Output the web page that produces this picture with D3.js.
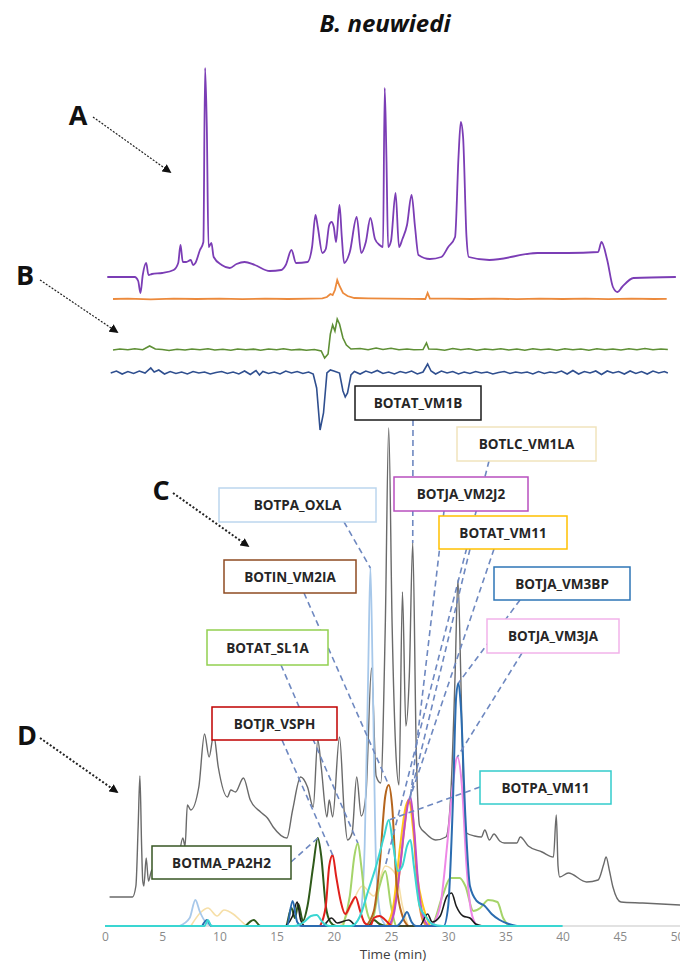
<!DOCTYPE html>
<html>
<head>
<meta charset="utf-8">
<script src="https://cdn.jsdelivr.net/npm/d3@7"></script>
<style>
  body { margin: 0; background: #fff; }
  svg { display: block; }
</style>
</head>
<body>
<svg id="chart" width="680" height="964"></svg>
<script>
// ---- data: [time (min), signal] ----
const timeTicks = [0, 5, 10, 15, 20, 25, 30, 35, 40, 45, 50];

// A: UV trace
const traceA = [[0.2,0],[2.6,0],[2.9,-4],[3.1,-16],[3.3,2],[3.6,14],[3.8,2],[4.1,3],[5.0,4],[6.0,7],[6.4,14],[6.6,32],[6.8,15],[7.1,15],[7.5,17],[7.7,12],[7.9,14],[8.3,27],[8.6,35],[8.75,209],[8.9,150],[9.05,30],[9.3,34],[9.5,20],[10.2,12],[10.9,9],[11.5,13],[12.2,15],[13.1,12],[14.4,6],[15.4,7],[15.8,12],[16.3,27],[16.7,14],[17.7,15],[18.1,30],[18.4,62],[18.6,50],[19.0,24],[19.3,28],[19.6,52],[19.8,55],[20.0,50],[20.2,35],[20.5,72],[20.7,40],[20.9,14],[21.4,25],[22.0,60],[22.4,24],[22.8,35],[23.2,59],[23.6,38],[24.0,32],[24.3,30],[24.45,189],[24.6,120],[24.75,30],[25.0,36],[25.4,84],[25.7,30],[26.0,38],[26.4,52],[26.8,82],[27.1,50],[27.4,22],[28.4,18],[29.4,20],[30.0,30],[30.6,40],[30.9,120],[31.1,155],[31.3,140],[31.6,40],[31.8,20],[33.6,17],[37.8,24],[40.5,24],[43.1,25],[43.4,35],[43.9,17],[44.4,-10],[44.8,-15],[45.2,-10],[46.2,-1],[49.9,0]];

// B: three detector traces
const traceOrange = [[0.7,0],[2,0.4],[4,-0.3],[6,0.3],[8,0],[10,0.4],[12,-0.2],[14,0.3],[16,0],[18,0.4],[19,0.6],[19.4,2],[19.7,5],[19.9,4],[20.1,9],[20.3,19],[20.5,13],[20.8,6],[21.2,3],[21.8,1],[23,0.6],[25,0.3],[27,0.2],[28.0,0],[28.2,6],[28.4,0.5],[30,0.3],[32,0],[34,0.4],[36,-0.2],[38,0.3],[40,0],[42,0.3],[44,-0.2],[46,0.3],[48,0],[49.1,0.2]];

const traceGreen = [[0.7,0],[1.3,1],[2,0.2],[2.6,1.2],[3.3,0.3],[3.9,4],[4.4,1],[5,0.5],[5.6,-0.5],[6.3,0.8],[7,0],[7.6,1],[8.3,0.2],[9,1.2],[9.6,0],[10.3,0.8],[11,-0.3],[11.6,1],[12.3,0.2],[13,0.9],[13.6,-0.2],[14.3,1],[15,0.3],[15.6,1.2],[16.3,0],[17,0.6],[17.6,-0.3],[18.3,0.5],[18.9,-1],[19.2,-8],[19.5,-4],[19.7,16],[19.9,25],[20.1,19],[20.3,31],[20.5,26],[20.8,12],[21.1,5],[21.5,1],[22.3,1.5],[23,0.2],[23.7,2],[24.3,0.5],[25,1.8],[25.7,0.3],[26.4,1],[27,0.2],[27.8,0.5],[28.1,7],[28.3,1],[29,0.8],[29.7,-0.3],[30.4,1.5],[31.1,0.2],[31.8,1.2],[32.5,-0.2],[33.2,1],[33.9,0.3],[34.6,1.3],[35.3,0],[36,1],[36.7,-0.3],[37.4,1.2],[38.1,0.2],[38.8,1],[39.5,-0.2],[40.2,1.3],[40.9,0.2],[41.6,1],[42.3,-0.3],[43,1.2],[43.7,0.3],[44.4,1],[45.1,0],[45.8,1.2],[46.5,0.3],[47.2,1.5],[47.9,0.2],[48.6,1],[49.2,0.5]];

const traceBlue = [[0.5,0],[1,2],[1.5,-1],[2,1.5],[2.5,-0.5],[3,2],[3.5,0],[4,5],[4.3,1],[4.7,3],[5.2,-1],[5.7,1.5],[6.2,-0.5],[6.7,1],[7.2,-1],[7.7,1.5],[8.2,0],[8.7,1],[9.2,-1],[9.7,0.5],[10.2,1.5],[10.7,-0.5],[11.2,1],[11.7,-1],[12.2,2],[12.7,-1.5],[13.2,2.5],[13.5,-2],[13.8,1.5],[14.3,-0.5],[14.8,1],[15.3,-1],[15.8,2],[16.3,0],[16.8,1.5],[17.3,-0.5],[17.8,1],[18.2,-1],[18.5,-15],[18.8,-57],[19.1,-40],[19.4,0],[19.7,3],[20.0,2],[20.5,0],[20.8,-18],[21.0,-24],[21.2,-20],[21.5,-2],[21.8,1.5],[22.3,-1],[22.8,2],[23.3,0],[23.8,2.5],[24.3,-0.5],[24.8,1],[25.3,-1],[25.8,1.5],[26.3,0],[26.8,2],[27.3,-1],[27.8,1],[28.2,9],[28.5,2],[28.9,-1],[29.4,2],[29.9,0],[30.4,1.5],[30.9,-1],[31.4,1],[31.9,-0.5],[32.4,1.5],[32.9,0],[33.4,1],[33.9,-1],[34.4,0.5],[34.9,1.5],[35.4,-0.5],[35.9,1],[36.4,0],[36.9,1],[37.4,-1],[37.9,1.5],[38.4,-0.5],[38.9,1],[39.4,0],[39.9,2],[40.4,-1],[40.9,2.5],[41.4,-1],[41.9,1.5],[42.4,0],[42.9,2],[43.4,-1.5],[43.9,2],[44.4,0],[44.9,1.5],[45.4,-1],[45.9,2],[46.4,-0.5],[46.9,1.5],[47.4,-1],[47.9,2],[48.4,0],[48.9,1.5],[49.2,0]];

// D: total trace and the assigned components
const traceD = [[0.4,29],[2.4,29],[2.7,40],[2.9,100],[3.05,150],[3.2,80],[3.3,45],[3.4,40],[3.6,68],[3.8,45],[4.1,56],[5.4,54],[6.3,60],[6.8,88],[7.0,80],[7.2,121],[7.5,116],[8.2,139],[8.7,192],[9.1,169],[9.5,191],[9.9,159],[10.7,129],[11.0,136],[11.4,134],[12.1,148],[12.7,126],[13.6,114],[14.2,108],[14.7,99],[15.9,88],[16.4,116],[17.1,149],[17.7,139],[18.2,119],[18.6,186],[18.9,159],[19.4,109],[19.6,126],[19.9,109],[20.5,189],[20.9,116],[21.2,86],[21.6,93],[22.0,149],[22.4,110],[22.8,130],[23.3,258],[23.7,150],[24.1,143],[24.5,300],[24.8,498],[25.1,300],[25.4,180],[25.7,141],[26.0,334],[26.3,200],[26.6,250],[26.9,383],[27.2,180],[27.5,100],[28.0,93],[28.9,86],[29.8,89],[30.2,126],[30.6,250],[30.85,346],[31.1,250],[31.3,150],[31.6,93],[32.3,90],[32.9,89],[33.2,96],[33.6,86],[34.0,92],[34.5,85],[34.9,83],[36.0,83],[36.3,89],[37.0,80],[38.2,74],[39.2,69],[39.45,111],[39.6,60],[39.75,49],[40.5,53],[42.1,44],[43.1,46],[43.6,62],[43.8,69],[44.1,55],[44.4,39],[45.1,24],[47.0,23],[50.3,21]];

const compLC_VM1LA = [[7.5,0],[8.4,14],[9.0,18],[9.8,10],[10.4,16],[11.2,12],[11.8,6],[12.5,0],[20.5,0],[21.5,20],[22.5,40],[23.5,30],[24.5,60],[25.5,50],[26,20],[26.5,0]];
const compPA_OXLA = [[6.5,0],[7.4,8],[7.9,26],[8.3,14],[8.8,4],[9.5,0],[21.5,0],[22.3,10],[22.7,80],[23.0,250],[23.2,358],[23.4,250],[23.7,60],[24.1,10],[24.6,0]];
const compAT_VM1B = [[15.8,0],[16.4,10],[16.8,24],[17.1,6],[17.5,0],[19,0],[19.8,8],[20.3,3],[21.3,6],[22,0],[27.5,0],[28.2,12],[28.6,4],[29.3,10],[29.9,30],[30.3,33],[30.7,20],[31.3,10],[31.9,8],[32.4,2],[33,0]];
const compMA_PA2H2 = [[12.3,0],[13.0,6],[13.6,0],[15.8,0],[16.3,18],[16.6,8],[16.9,22],[17.3,5],[17.7,20],[18.2,60],[18.6,88],[18.9,70],[19.3,20],[19.7,4],[20.2,0],[23,0],[23.5,6],[24,2],[24.5,0]];
const compJR_VSPH = [[18.8,0],[19.3,20],[19.6,60],[19.9,71],[20.2,50],[20.6,25],[21.0,12],[21.5,22],[21.9,29],[22.3,15],[22.7,3],[23.2,0],[23.5,8],[24.0,10],[24.5,6],[25,0]];
const compAT_SL1A = [[20.8,0],[21.4,30],[21.8,70],[22.1,83],[22.4,60],[22.8,20],[23.3,5],[24,40],[24.5,55],[25,20],[25.5,0],[28.5,0],[29.5,30],[30.2,48],[31.0,48],[31.5,40],[32.2,15],[32.8,18],[33.5,26],[34.3,24],[34.8,8],[35.3,0]];
const compIN_VM2IA = [[22.8,0],[23.5,15],[24.0,60],[24.5,130],[24.8,141],[25.1,120],[25.5,40],[26.0,10],[26.5,0]];
const compJA_VM2J2 = [[24.8,0],[25.3,15],[25.8,60],[26.3,110],[26.7,129],[27.0,100],[27.4,40],[27.8,10],[28.3,0]];
const compAT_VM11 = [[24.6,0],[25.2,20],[25.8,80],[26.3,120],[26.6,126],[26.9,100],[27.3,50],[27.8,20],[28.4,0]];
const compOrange = [[25.0,0],[25.6,40],[26.2,100],[26.5,126],[26.9,110],[27.3,40],[27.8,5],[28.2,0]];
const compJA_VM3JA = [[28.5,0],[29.3,20],[29.9,80],[30.4,140],[30.8,169],[31.2,140],[31.6,60],[32.0,15],[32.5,0]];
const compJA_VM3BP = [[8.5,0],[8.9,6],[9.3,0],[15.9,0],[16.4,25],[16.8,4],[17.2,0],[25.5,0],[26.0,6],[26.4,14],[26.8,4],[27.2,0],[29.6,0],[30.0,20],[30.4,120],[30.7,230],[30.9,243],[31.1,220],[31.5,110],[31.9,40],[32.5,25],[33.2,20],[33.8,12],[34.5,6],[35.3,2],[36.0,0]];
const compPA_VM11 = [[0,0],[8.7,0],[9.0,6],[9.3,0],[16.5,0],[17.4,4],[18.0,10],[18.5,11],[19.0,4],[19.6,0],[21.5,0],[22.3,10],[23.0,35],[23.7,60],[24.4,90],[24.8,106],[25.2,80],[25.6,55],[26.0,60],[26.4,80],[26.7,86],[27.0,60],[27.5,20],[28,10],[28.6,2],[29.5,0],[40,0]];

const labelNames = ["BOTAT_VM1B", "BOTLC_VM1LA", "BOTJA_VM2J2", "BOTPA_OXLA", "BOTAT_VM11", "BOTIN_VM2IA",
                    "BOTJA_VM3BP", "BOTJA_VM3JA", "BOTAT_SL1A", "BOTJR_VSPH", "BOTPA_VM11", "BOTMA_PA2H2"];

// ---- styling / layout ----
const svg = d3.select("#chart");
const x = d3.scaleLinear().domain([0, 50]).range([105, 677]);

const yA = d3.scaleLinear().domain([0, 210]).range([277, 67]);
const yOrange = d3.scaleLinear().domain([0, 50]).range([299, 249]);
const yGreen = d3.scaleLinear().domain([0, 50]).range([350, 300]);
const yBlue = d3.scaleLinear().domain([0, 50]).range([373, 323]);
const yD = d3.scaleLinear().domain([0, 500]).range([926, 426]);

const lineFor = (y, curve) => d3.line()
    .x(d => x(d[0]))
    .y(d => y(d[1]))
    .curve(curve || d3.curveMonotoneX);

// title
svg.append("text")
    .attr("x", 385).attr("y", 32)
    .attr("text-anchor", "middle")
    .style("font", "italic bold 24px 'Open Sans', sans-serif")
    .attr("fill", "#111")
    .text("B. neuwiedi");

// panel letters + dotted arrows
const defs = svg.append("defs");
defs.append("marker")
    .attr("id", "head").attr("viewBox", "0 0 10 10")
    .attr("refX", 8).attr("refY", 5)
    .attr("markerWidth", 9).attr("markerHeight", 9)
    .attr("markerUnits", "userSpaceOnUse")
    .attr("orient", "auto")
    .append("path").attr("d", "M0,0 L10,5 L0,10 z").attr("fill", "#111");

const letters = [
    {t: "A", x: 78, y: 125, from: [93, 117], to: [170, 172], w: 1.2},
    {t: "B", x: 25, y: 285, from: [40, 280], to: [117, 332], w: 1.2},
    {t: "C", x: 161, y: 500, from: [173, 493], to: [248, 546], w: 2},
    {t: "D", x: 27, y: 745, from: [40, 738], to: [117, 792], w: 2}
];
letters.forEach(l => {
    svg.append("text")
        .attr("x", l.x).attr("y", l.y)
        .attr("text-anchor", "middle")
        .style("font", "bold 27px 'Open Sans', sans-serif")
        .attr("fill", "#111")
        .text(l.t);
    svg.append("line")
        .attr("x1", l.from[0]).attr("y1", l.from[1])
        .attr("x2", l.to[0]).attr("y2", l.to[1])
        .attr("stroke", "#222").attr("stroke-width", l.w)
        .attr("stroke-dasharray", l.w > 1.5 ? "2,2" : "2,1.5")
        .attr("marker-end", "url(#head)");
});

// panel A / B
svg.append("path").datum(traceA)
    .attr("d", lineFor(yA))
    .attr("fill", "none").attr("stroke", "#7b3db5").attr("stroke-width", 1.8);
svg.append("path").datum(traceOrange)
    .attr("d", lineFor(yOrange, d3.curveLinear))
    .attr("fill", "none").attr("stroke", "#ec8a3c").attr("stroke-width", 1.8);
svg.append("path").datum(traceGreen)
    .attr("d", lineFor(yGreen, d3.curveLinear))
    .attr("fill", "none").attr("stroke", "#5e8f35").attr("stroke-width", 1.6);
svg.append("path").datum(traceBlue)
    .attr("d", lineFor(yBlue, d3.curveLinear))
    .attr("fill", "none").attr("stroke", "#2f4f8f").attr("stroke-width", 1.6);

// panel D axis
const axis = svg.append("g")
    .attr("transform", "translate(0,926)")
    .call(d3.axisBottom(x).tickValues(timeTicks).tickSize(0).tickPadding(6));
axis.select(".domain").attr("stroke", "#d9d9d9").attr("stroke-width", 1.5)
    .attr("d", "M105,0H680");
axis.selectAll("text")
    .style("font", "12px 'Open Sans', sans-serif")
    .attr("fill", "#8a8a8a");
svg.append("text")
    .attr("x", 393).attr("y", 959)
    .attr("text-anchor", "middle")
    .style("font", "13.5px 'Open Sans', sans-serif")
    .attr("fill", "#404040")
    .text("Time (min)");

// total trace
svg.append("path").datum(traceD)
    .attr("d", lineFor(yD))
    .attr("fill", "none").attr("stroke", "#6a6a6a").attr("stroke-width", 1.4);

// components (drawn pale first)
const components = [
    {name: "BOTLC_VM1LA", data: compLC_VM1LA, color: "#f6dfa8", w: 1.6},
    {name: "BOTPA_OXLA", data: compPA_OXLA, color: "#a7c8ea", w: 1.8},
    {name: "BOTAT_SL1A", data: compAT_SL1A, color: "#a5d46a", w: 2},
    {name: "BOTJA_VM3JA", data: compJA_VM3JA, color: "#ee88e6", w: 2},
    {name: "BOTAT_VM11", data: compAT_VM11, color: "#ffc61a", w: 2},
    {name: "orange", data: compOrange, color: "#f0913a", w: 2},
    {name: "BOTJA_VM2J2", data: compJA_VM2J2, color: "#c04cc8", w: 2},
    {name: "BOTIN_VM2IA", data: compIN_VM2IA, color: "#b5651d", w: 2},
    {name: "BOTMA_PA2H2", data: compMA_PA2H2, color: "#2f5a1a", w: 2},
    {name: "BOTJR_VSPH", data: compJR_VSPH, color: "#e0201c", w: 2},
    {name: "BOTAT_VM1B", data: compAT_VM1B, color: "#1c1c1c", w: 1.6},
    {name: "BOTJA_VM3BP", data: compJA_VM3BP, color: "#2b6cb0", w: 2},
    {name: "BOTPA_VM11", data: compPA_VM11, color: "#3ad6d2", w: 2}
];
svg.append("g").selectAll("path").data(components).join("path")
    .attr("d", d => lineFor(yD)(d.data))
    .attr("fill", "none")
    .attr("stroke", d => d.color)
    .attr("stroke-width", d => d.w);

// label boxes: where each box sits and where its leader starts
const boxes = {
    "BOTAT_VM1B":  {x: 355, y: 386, w: 126, h: 34, c: "#1a1a1a", from: [[413, 420]], to: {s: traceD, t: 26.9}},
    "BOTLC_VM1LA": {x: 457, y: 427, w: 139, h: 34, c: "#f1e4bd", from: [[489, 461]], to: {s: compLC_VM1LA, t: 24.5}},
    "BOTJA_VM2J2": {x: 394, y: 477, w: 134, h: 34, c: "#b84fbf", from: [[444, 511]], to: {s: compJA_VM2J2, t: 26.7}},
    "BOTPA_OXLA":  {x: 219, y: 488, w: 157, h: 34, c: "#bcd6ee", from: [[344, 522]], to: {s: compPA_OXLA, t: 23.2}},
    "BOTAT_VM11":  {x: 439, y: 516, w: 128, h: 33, c: "#ffc000", from: [[470, 549], [494, 549]], to: {s: compAT_VM11, t: 26.6}},
    "BOTIN_VM2IA": {x: 224, y: 560, w: 132, h: 33, c: "#8e4b22", from: [[304, 593]], to: {s: compIN_VM2IA, t: 24.8}},
    "BOTJA_VM3BP": {x: 494, y: 567, w: 136, h: 33, c: "#2e75b6", from: [[520, 600]], to: {s: compJA_VM3BP, t: 30.9}},
    "BOTJA_VM3JA": {x: 487, y: 619, w: 132, h: 34, c: "#f2b3ea", from: [[522, 653]], to: {s: compJA_VM3JA, t: 30.8}},
    "BOTAT_SL1A":  {x: 207, y: 630, w: 121, h: 35, c: "#92d050", from: [[281, 665]], to: {s: compAT_SL1A, t: 22.1}},
    "BOTJR_VSPH":  {x: 212, y: 707, w: 125, h: 33, c: "#c00000", from: [[282, 740]], to: {s: compJR_VSPH, t: 19.9}},
    "BOTPA_VM11":  {x: 480, y: 771, w: 131, h: 33, c: "#33cccc", from: [[480, 787]], to: {s: compPA_VM11, t: 24.8}},
    "BOTMA_PA2H2": {x: 152, y: 846, w: 139, h: 33, c: "#375623", from: [[291, 862]], to: {s: compMA_PA2H2, t: 18.6}}
};

const pointAt = (series, t) => {
    const p = series.reduce((a, b) => Math.abs(b[0] - t) < Math.abs(a[0] - t) ? b : a);
    return [x(p[0]), yD(p[1])];
};

const leaders = svg.append("g");
labelNames.forEach(n => {
    const b = boxes[n];
    const end = pointAt(b.to.s, b.to.t);
    b.from.forEach(f => {
        leaders.append("line")
            .attr("x1", f[0]).attr("y1", f[1])
            .attr("x2", end[0]).attr("y2", end[1])
            .attr("stroke", "#6e88c0").attr("stroke-width", 1.6)
            .attr("stroke-dasharray", "6,4");
    });
});

const labels = svg.append("g").selectAll("g").data(labelNames).join("g")
    .attr("transform", n => `translate(${boxes[n].x},${boxes[n].y})`);
labels.append("rect")
    .attr("width", n => boxes[n].w).attr("height", n => boxes[n].h)
    .attr("fill", "#fff")
    .attr("stroke", n => boxes[n].c).attr("stroke-width", 1.5);
labels.append("text")
    .attr("x", n => boxes[n].w / 2).attr("y", n => boxes[n].h / 2 + 5)
    .attr("text-anchor", "middle")
    .style("font", "bold 13.5px 'Open Sans', sans-serif")
    .attr("fill", "#262626")
    .text(n => n);
</script>
</body>
</html>
